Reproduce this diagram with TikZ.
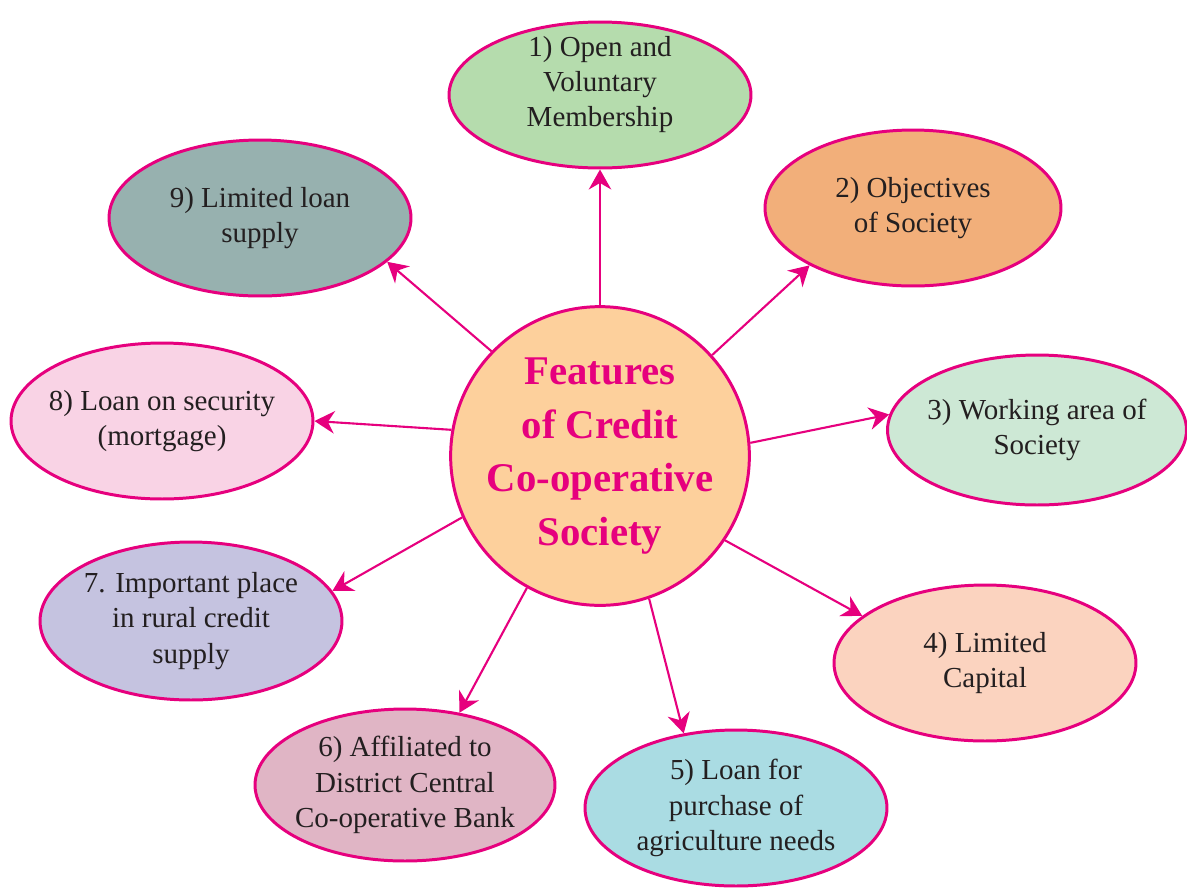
\documentclass[tikz,border=0pt]{standalone}
\usepackage{fontspec}
\setmainfont{Liberation Serif}
\usetikzlibrary{shapes.geometric,arrows.meta}
\definecolor{pinkline}{HTML}{E6007E}
\definecolor{textgray}{HTML}{231F20}
\definecolor{centerfill}{HTML}{FDD09C}
\definecolor{fillone}{HTML}{B5DCAD}
\definecolor{filltwo}{HTML}{F2AF7A}
\definecolor{fillthree}{HTML}{CDE8D5}
\definecolor{fillfour}{HTML}{FBD3BF}
\definecolor{fillfive}{HTML}{AADCE3}
\definecolor{fillsix}{HTML}{E0B5C5}
\definecolor{fillseven}{HTML}{C5C3E0}
\definecolor{filleight}{HTML}{F9D3E5}
\definecolor{fillnine}{HTML}{97B1AF}
\tikzset{
  feature/.style={ellipse,draw=pinkline,line width=1.7pt,minimum width=6.04cm,
    minimum height=3.12cm,inner xsep=-0.4cm,inner ysep=-0.3cm,align=center,text=textgray,
    font=\fontsize{16.5}{20}\selectfont},
  hub/.style={circle,draw=pinkline,line width=1.7pt,fill=centerfill,minimum size=5.8cm,
    inner sep=0pt,align=center,text=pinkline,font=\fontsize{23.2}{30.5}\selectfont\bfseries},
  arr/.style={draw=pinkline,line width=1.2pt,-{Stealth[length=4mm,width=4.5mm,inset=1.3mm]}}
}
\begin{document}
\begin{tikzpicture}[x=0.02cm,y=-0.02cm]
\useasboundingbox (0,0) rectangle (1187,887);
%
\node[hub](c) at (600,456){Features\\of Credit\\Co-operative\\Society};
%
\node[feature,fill=fillone,minimum height=2.92cm,text depth=0.55cm](f1) at (600,95){1) Open and\\Voluntary\\Membership};
\node[feature,fill=filltwo,minimum width=5.92cm](f2) at (913,208){2) Objectives\\of Society};
\node[feature,fill=fillthree,minimum width=5.98cm,minimum height=3cm](f3) at (1037,430){3) Working area of\\Society};
\node[feature,fill=fillfour](f4) at (985,663){4) Limited\\Capital};
\node[feature,fill=fillfive](f5) at (736,808){5) Loan for\\purchase of\\agriculture needs};
\node[feature,fill=fillsix,minimum width=6cm,minimum height=3.04cm](f6) at (405,785){6) Affiliated to\\District Central\\Co-operative Bank};
\node[feature,fill=fillseven,minimum height=3.16cm](f7) at (191,621){7. Important place\\in rural credit\\supply};
\node[feature,fill=filleight](f8) at (162,421){8) Loan on security\\(mortgage)};
\node[feature,fill=fillnine](f9) at (260,218){9) Limited loan\\supply};
%
\draw[arr](c.90)--(f1.-90);
\draw[arr](c.42.5)--(f2.209.7);
\draw[arr](c.5)--(f3.174);
\draw[arr](c.-34.3)--(f4.159.3);
\draw[arr](c.-71.7)--(f5.125);
\draw[arr](c.241)--(f6.53.3);
\draw[arr](c.204.6)--(f7.12);
\draw[arr](c.170.5)--(f8.0);
\draw[arr](c.136.4)--(f9.-19);
\end{tikzpicture}
\end{document}
